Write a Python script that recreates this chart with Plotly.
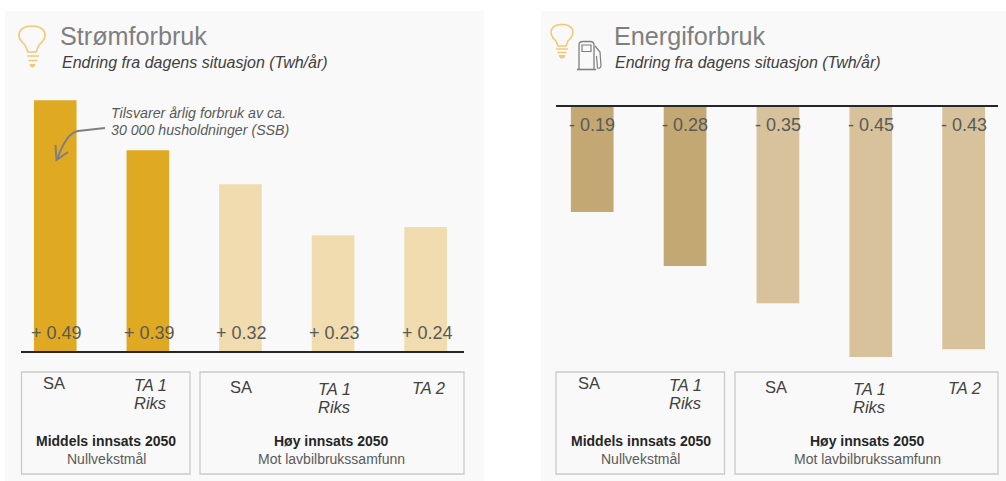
import plotly.graph_objects as go

W, H = 1006, 481
FONT = "Liberation Sans"

# ---- data ----
scenarios = ["SA (middels)", "TA 1 Riks (middels)", "SA (høy)", "TA 1 Riks (høy)", "TA 2 (høy)"]
strom_values = [0.487, 0.390, 0.324, 0.225, 0.241]
strom_labels = ["+ 0.49", "+ 0.39", "+ 0.32", "+ 0.23", "+ 0.24"]
energi_values = [-0.187, -0.283, -0.349, -0.445, -0.431]
energi_labels = ["- 0.19", "- 0.28", "- 0.35", "- 0.45", "- 0.43"]
strom_colors = ["#e0a922", "#e0a922", "#f0dcae", "#f0dcae", "#f0dcae"]
energi_colors = ["#c4a873", "#c4a873", "#d7c29b", "#d7c29b", "#d7c29b"]


def px(x):
    return x / W


def py(y):
    return 1 - y / H


def path(points_cmd):
    """Build an SVG path for paper coordinates from pixel-based commands."""
    out = []
    for item in points_cmd:
        if isinstance(item, str):
            out.append(item)
        else:
            out.append(f"{px(item[0]):.5f},{py(item[1]):.5f}")
    return " ".join(out)


fig = go.Figure()
fig.add_trace(go.Bar(x=scenarios, y=strom_values, marker=dict(color=strom_colors, line_width=0),
                     width=0.46, xaxis="x", yaxis="y", hoverinfo="skip"))
fig.add_trace(go.Bar(x=scenarios, y=energi_values, marker=dict(color=energi_colors, line_width=0),
                     width=0.46, xaxis="x2", yaxis="y2", hoverinfo="skip"))

shapes = []
annotations = []


def rect(x0, y0, x1, y1, fill=None, line=None, lw=1.0):
    shapes.append(dict(type="rect", xref="paper", yref="paper", x0=px(x0), x1=px(x1), y0=py(y1), y1=py(y0),
                       fillcolor=fill or "rgba(0,0,0,0)", line=dict(color=line or "rgba(0,0,0,0)", width=lw),
                       layer="below"))


def line_path(cmds, color, width=1.5, fill=None):
    shapes.append(dict(type="path", xref="paper", yref="paper", path=path(cmds),
                       line=dict(color=color, width=width), fillcolor=fill or "rgba(0,0,0,0)", layer="above"))


def text(x, y, s, size=13, color="#404040", anchor="center"):
    annotations.append(dict(xref="paper", yref="paper", x=px(x), y=py(y), text=s, showarrow=False,
                            xanchor=anchor, yanchor="middle", borderpad=0,
                            font=dict(family=FONT, size=size, color=color)))


# panels
rect(5, 11, 484, 481, fill="#f9f9f9")
rect(541, 11, 1006, 481, fill="#f9f9f9")

# category boxes
for x0, x1 in [(21.5, 190), (200, 464), (556, 724.5), (735, 998)]:
    rect(x0, 372, x1, 474, line="#cacaca", lw=1.3)

# titles
text(59, 36, "Strømforbruk", 25.2, "#7f7f7f", "left")
text(61, 62, "<i>Endring fra dagens situasjon (Twh/år)</i>", 16, "#404040", "left")
text(613, 36, "Energiforbruk", 25.2, "#7f7f7f", "left")
text(614, 62, "<i>Endring fra dagens situasjon (Twh/år)</i>", 16, "#404040", "left")

# callout
text(109.5, 113, "<i>Tilsvarer årlig forbruk av ca.</i>", 14.2, "#595959", "left")
text(109.5, 130, "<i>30 000 husholdninger (SSB)</i>", 14.2, "#595959", "left")
line_path(["M", (105, 128), "L", (78, 131), "Q", (66, 133), (57, 160)], "#7f7f7f", 2)
line_path(["M", (55.5, 145), "L", (56.5, 160), "L", (68, 152)], "#7f7f7f", 2)

# value labels
for cat, lab in zip(scenarios, strom_labels):
    annotations.append(dict(xref="x", yref="y", x=cat, y=0, xshift=1.5, yshift=18, text=lab, showarrow=False,
                            font=dict(family=FONT, size=18, color="#595959")))
for cat, lab in zip(scenarios, energi_labels):
    annotations.append(dict(xref="x2", yref="y2", x=cat, y=0, yshift=-18, text=lab, showarrow=False,
                            font=dict(family=FONT, size=18, color="#595959")))

# scenario labels below the charts
left_cats = [(54, 383, "SA", False), (150, 385, "TA 1", True), (150, 403, "Riks", True), (241, 387, "SA", False),
             (334, 389, "TA 1", True), (334, 407, "Riks", True), (428.5, 388, "TA 2", True)]
right_cats = [(589, 383, "SA", False), (685, 385, "TA 1", True), (685, 403, "Riks", True), (776, 387, "SA", False),
              (869, 389, "TA 1", True), (869, 407, "Riks", True), (964.5, 388, "TA 2", True)]
for x, y, s, it in left_cats + right_cats:
    text(x, y, f"<i>{s}</i>" if it else s, 16.5, "#404040")

for x, s in [(106, "Middels innsats 2050"), (331, "Høy innsats 2050"), (640.5, "Middels innsats 2050"), (867, "Høy innsats 2050")]:
    text(x, 441, f"<b>{s}</b>", 14, "#262626")
for x, s in [(106, "Nullvekstmål"), (331, "Mot lavbilbrukssamfunn"), (640.5, "Nullvekstmål"), (867, "Mot lavbilbrukssamfunn")]:
    text(x, 459, s, 14, "#595959")

# bulb icons
BULB = "#f2c873"
line_path(["M", (28, 52), "L", (25, 45), "C", (14, 36), (19, 26), (32, 26), "C", (45, 26), (50, 36), (39, 45),
           "L", (36, 52), "Z"], BULB, 1.6)
line_path(["M", (27, 56), "L", (39, 56)], BULB, 1.5)
line_path(["M", (28.5, 60.5), "L", (37.5, 60.5)], BULB, 1.5)
line_path(["M", (30, 64.5), "L", (35, 64.5), "L", (33.5, 67), "L", (31.5, 67), "Z"], BULB, 1, BULB)

line_path(["M", (558, 46), "L", (556, 41), "C", (547, 33), (551, 24.5), (562, 24.5), "C", (573, 24.5), (577, 33), (568, 41),
           "L", (566, 46), "Z"], BULB, 1.6)
line_path(["M", (556, 49), "L", (568, 49)], BULB, 1.5)
line_path(["M", (557.5, 52.5), "L", (566.5, 52.5)], BULB, 1.5)
line_path(["M", (559, 55.5), "L", (565, 55.5), "L", (563.5, 58), "L", (560.5, 58), "Z"], BULB, 1, BULB)

# fuel pump icon
PUMP = "#7f7f7f"
line_path(["M", (579, 69), "L", (579, 45), "Q", (579, 41.5), (583, 41.5), "L", (590, 41.5), "Q", (594, 41.5), (594, 45),
           "L", (594, 69)], PUMP, 1.3)
line_path(["M", (582, 45), "L", (591, 45), "L", (591, 51.5), "L", (582, 51.5), "Z"], PUMP, 1.2)
line_path(["M", (577, 69.5), "L", (596, 69.5)], PUMP, 1.6)
line_path(["M", (595, 46), "L", (600, 52), "L", (601, 66), "Q", (600, 69), (597.5, 68), "L", (596.5, 56)], PUMP, 1.2)

axis_common = dict(showgrid=False, zeroline=False, showticklabels=False, ticks="", fixedrange=True)
fig.update_layout(
    width=W, height=H, margin=dict(l=0, r=0, t=0, b=0), autosize=False,
    paper_bgcolor="#ffffff", plot_bgcolor="rgba(0,0,0,0)", showlegend=False,
    font=dict(family=FONT),
    xaxis=dict(domain=[px(21), px(464)], range=[-0.37, 4.414], type="category", categoryorder="array",
               categoryarray=scenarios, showline=True, linecolor="#262626", linewidth=1.5, **axis_common),
    yaxis=dict(domain=[py(351), py(90)], range=[0, 261 / 515], showline=False, **axis_common),
    xaxis2=dict(domain=[px(556), px(998)], range=[-0.39, 4.37], type="category", categoryorder="array",
                categoryarray=scenarios, anchor="y2", side="top", showline=True, linecolor="#262626", linewidth=1.5,
                **axis_common),
    yaxis2=dict(domain=[py(371), py(107)], range=[-264 / 562, 0], anchor="x2", showline=False, **axis_common),
    shapes=shapes, annotations=annotations,
)

fig.write_html("out.html", config={"displayModeBar": False},
               post_script="document.body.style.margin='0';document.body.style.overflow='hidden';")
